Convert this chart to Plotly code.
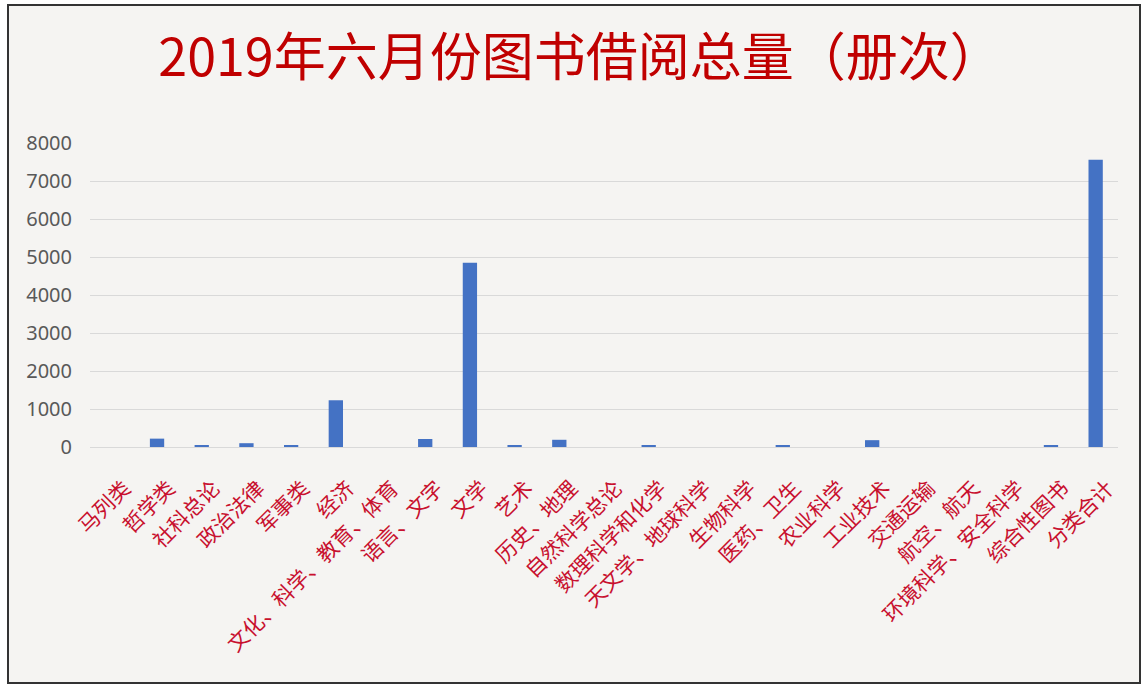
import plotly.graph_objects as go

categories = ["马列类", "哲学类", "社科总论", "政治法律", "军事类", "经济",
              "文化、科学、教育、体育", "语言、文字", "文学", "艺术", "历史、地理",
              "自然科学总论", "数理科学和化学", "天文学、地球科学", "生物科学",
              "医药、卫生", "农业科学", "工业技术", "交通运输", "航空、航天",
              "环境科学、安全科学", "综合性图书", "分类合计"]
values = [0, 220, 50, 100, 50, 1230,
          0, 210, 4850, 50, 190,
          0, 50, 0, 0,
          50, 0, 180, 0, 0,
          0, 50, 7560]
y_ticks = [0, 1000, 2000, 3000, 4000, 5000, 6000, 7000, 8000]
title_text = "2019年六月份图书借阅总量（册次）"

W, H = 1146, 687
ml, mr, mt, mb = 90, 28, 143, 240
pw, ph = W - ml - mr, H - mt - mb

def px2x(x):
    return (x - ml) / pw

def px2y(y):
    return (H - mb - y) / ph

fig = go.Figure(go.Bar(x=categories, y=values, marker_color="#4472C4",
                       marker_line_width=0))

fig.update_layout(
    width=W, height=H,
    margin=dict(l=ml, r=mr, t=mt, b=mb, autoexpand=False),
    paper_bgcolor="white",
    plot_bgcolor="rgba(0,0,0,0)",
    bargap=0.68,
    showlegend=False,
    font=dict(family="Noto Sans CJK SC"),
    title=dict(text=title_text, x=580 / W, xanchor="center",
               y=1 - 58 / H, yanchor="middle", xref="container", yref="container",
               font=dict(size=52, color="#C00000", family="Noto Sans CJK SC")),
    xaxis=dict(tickangle=-45, tickfont=dict(size=21, color="#C8102E"),
               showgrid=False, showline=False, ticks="", ticklabelstandoff=24,
               ticklabelshift=12),
    yaxis=dict(range=[0, 8000], tickvals=y_ticks, showgrid=True,
               gridcolor="#D9D9D9", gridwidth=1, zeroline=True,
               zerolinecolor="#D9D9D9", zerolinewidth=1, showline=False,
               tickfont=dict(size=20, color="#595959", family="Noto Sans"),
               ticks="", ticklabelstandoff=17),
    shapes=[dict(type="rect", xref="paper", yref="paper",
                 x0=px2x(8), x1=px2x(1140), y0=px2y(683), y1=px2y(5),
                 fillcolor="#F5F4F2", line=dict(color="#333333", width=2),
                 layer="below")],
)

fig.write_html("out.html", config={"displayModeBar": False},
               post_script="document.body.style.margin='0px';")
